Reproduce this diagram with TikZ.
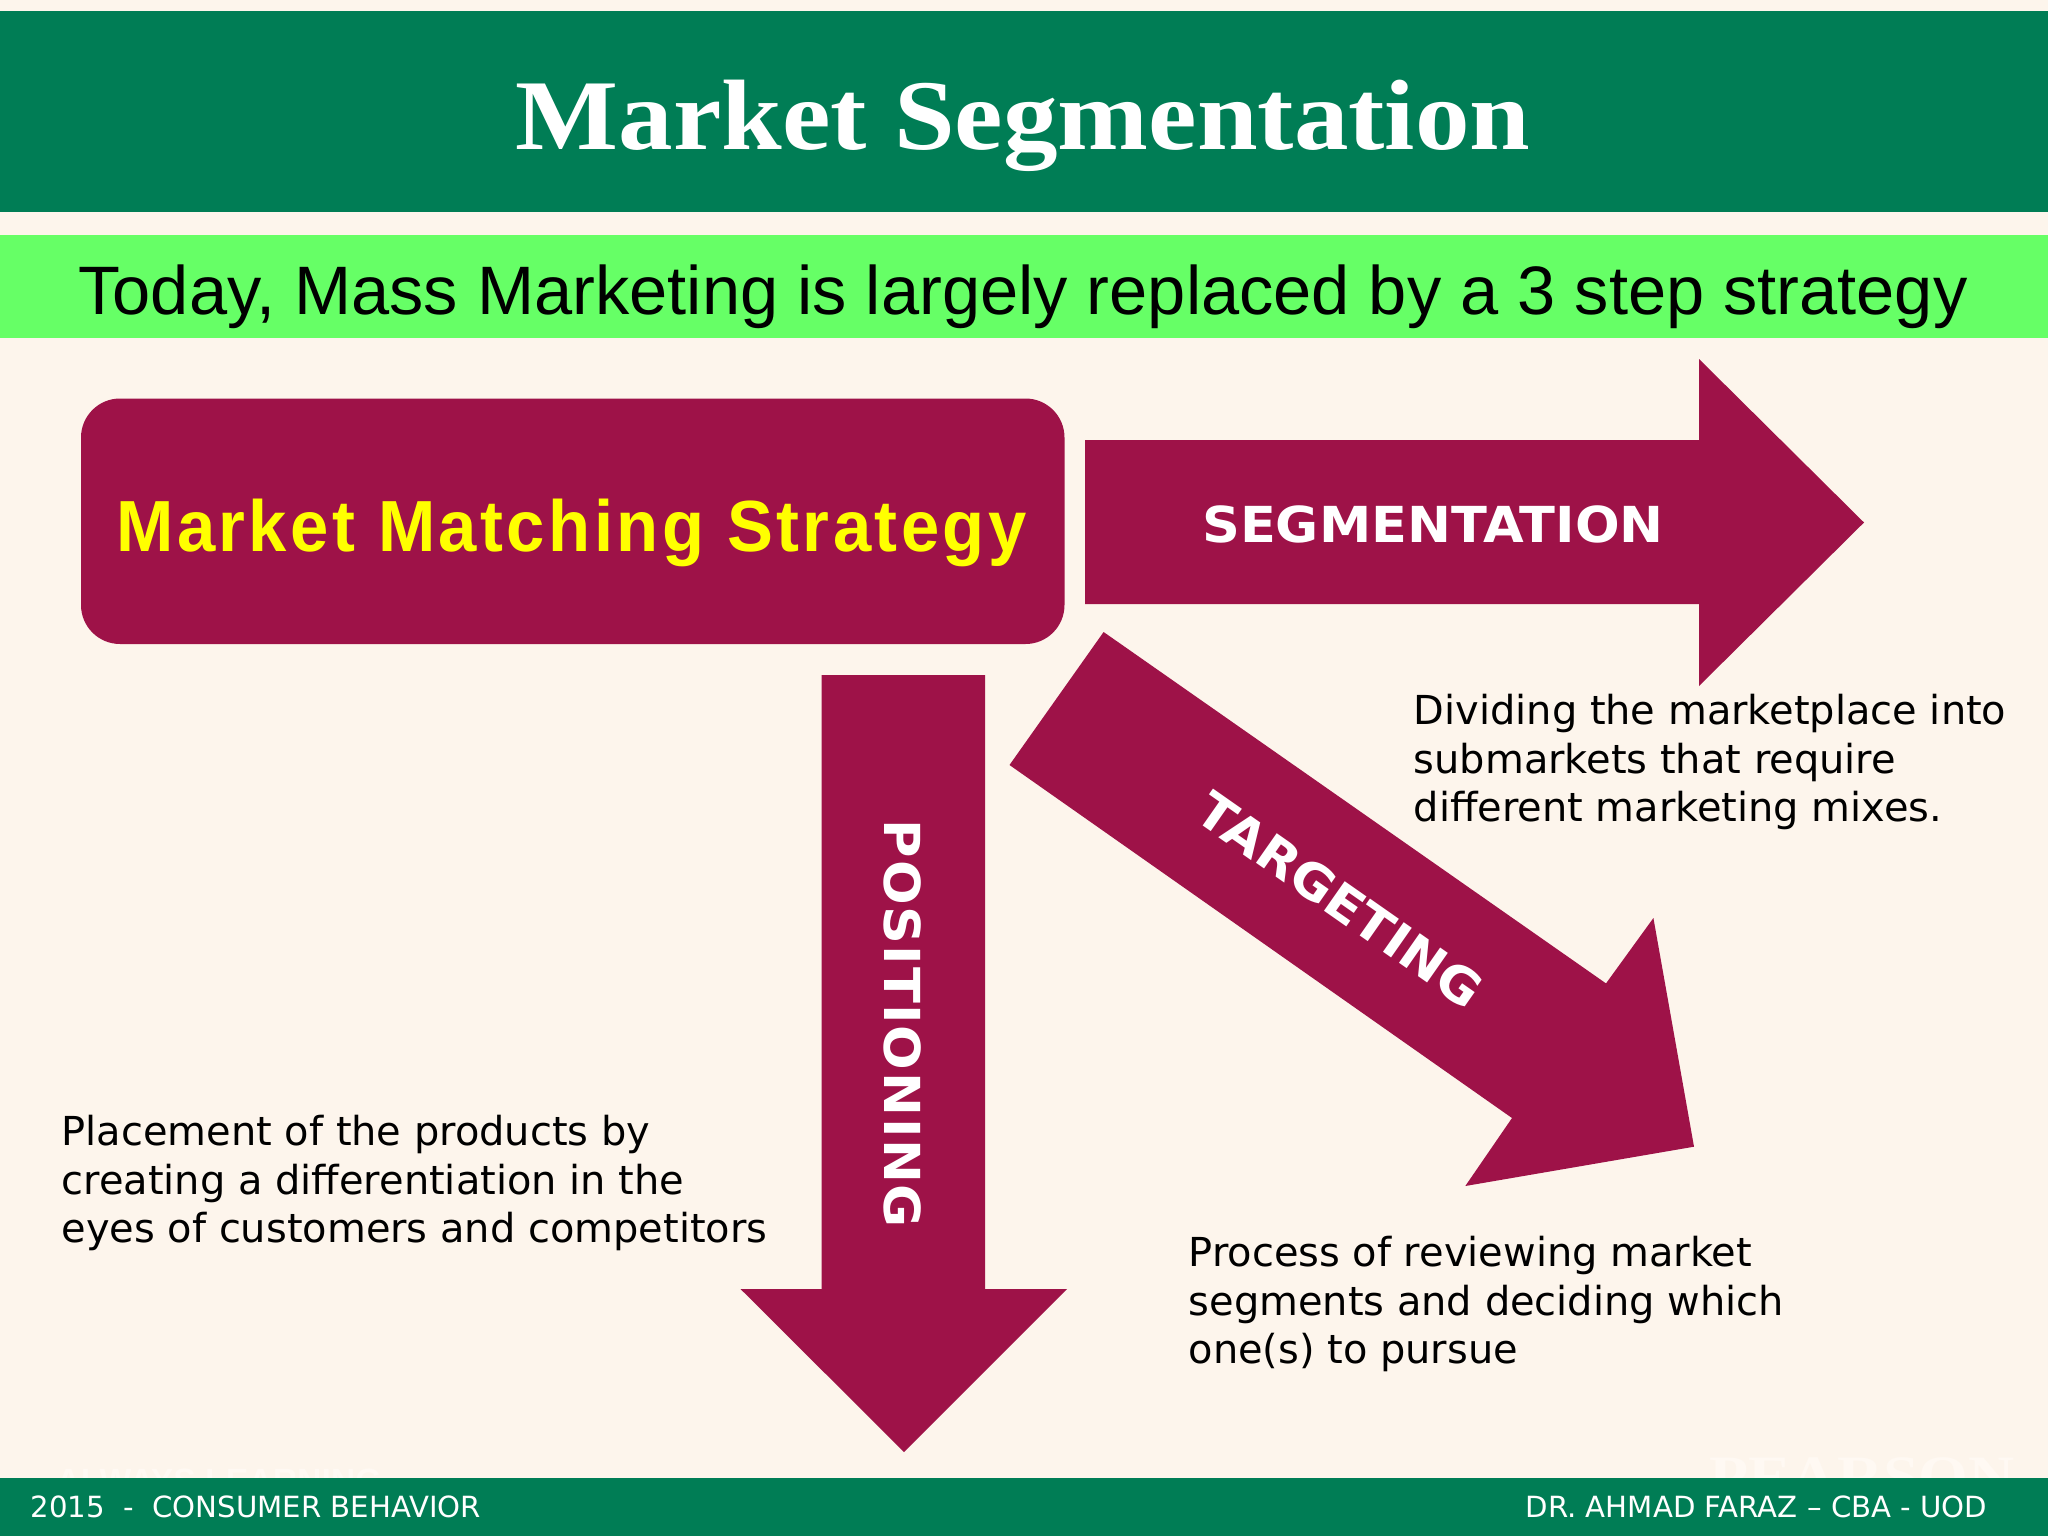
\documentclass[tikz,border=0pt]{standalone}
\usepackage{fontspec}
\setmainfont{DejaVu Sans}
\newfontfamily\titlefont[FakeStretch=1.09]{Liberation Serif}
\newfontfamily\subfont{Liberation Sans}
\newfontfamily\strategyfont[FakeStretch=0.95,LetterSpace=4.8]{Liberation Sans}
\newfontfamily\labelfont[FakeStretch=1.06]{DejaVu Sans}
\usetikzlibrary{calc}
\definecolor{Paper}{RGB}{253,245,236}
\definecolor{Whisper}{RGB}{255,249,243}
\definecolor{Forest}{RGB}{0,125,85}
\definecolor{Lime}{RGB}{102,255,102}
\definecolor{Maroon}{RGB}{158,18,72}
\tikzset{
    band/.style={fill=#1,draw=none},
    stepshape/.style={fill=Maroon,draw=none},
    steplabel/.style={text=white,inner sep=0pt,font=\fontsize{14.1pt}{17pt}\selectfont\labelfont\bfseries},
    blurb/.style={text=black,inner sep=0pt,anchor=west,align=left,font=\fontsize{11.35pt}{13.66pt}\selectfont},
    foot/.style={text=white,inner sep=0pt,font=\fontsize{8.3pt}{10pt}\selectfont},
    ghost/.style={text=Whisper,inner sep=0pt,anchor=base},
}

\begin{document}
\begin{tikzpicture}[x=0.01cm,y=-0.01cm]
        \useasboundingbox (0,0) rectangle (2048,1536);
        \fill[band=Paper] (0,0) rectangle (2048,1536);
        \fill[band=Forest] (0,10.5) rectangle (2048,211.5);
        \fill[band=Lime] (0,235) rectangle (2048,338);
        \node[ghost] (learning) at (219,1492) {\fontsize{9.6pt}{12pt}\selectfont\subfont\bfseries ALWAYS LEARNING};
        \node[ghost] (pearson) at (1862,1496) {\fontsize{16.7pt}{20pt}\selectfont\titlefont\bfseries PEARSON};
        \fill[band=Forest] (0,1478) rectangle (2048,1536);
        \node[text=white,inner sep=0pt] (title) at (1023,126) {\fontsize{28.45pt}{34pt}\selectfont\titlefont\bfseries Market Segmentation};
        \node[text=black,inner sep=0pt] (subtitle) at (1023,296.5) {\fontsize{19.5pt}{24pt}\selectfont\subfont Today, Mass Marketing is largely replaced by a 3 step strategy};
        \fill[stepshape,rounded corners=0.39cm] (81,398.5) rectangle (1064.5,644);
        \node[text={rgb,255:red,255;green,255;blue,0},inner sep=0pt,anchor=base] (strategy) at (571.5,551) {\fontsize{20.6pt}{25pt}\selectfont\strategyfont\bfseries Market Matching Strategy};
        \fill[stepshape] (1085,440)--(1699,440)--(1699,359)--(1864,522.5)--(1699,686)--(1699,604)--(1085,604)--cycle;
        \node[steplabel] (segmentation) at (1433,524) {SEGMENTATION};
        \fill[stepshape] (821.5,675)--(985,675)--(985,1289)--(1067,1289)--(904,1452)--(740.5,1289)--(821.5,1289)--cycle;
        \node[steplabel,rotate=-90] (positioning) at (903,1024) {\addfontfeature{LetterSpace=3.4}POSITIONING};
        \fill[stepshape] (1103.6,632)--(1606,983.4)--(1653.4,918)--(1694,1146.7)--(1465.3,1186)--(1512,1118)--(1009.5,765)--cycle;
        \node[steplabel,rotate=-35] (targeting) at (1340,900) {TARGETING};
        \node[blurb] (segtext) at (1413,762) {Dividing the marketplace into\\submarkets that require\\different marketing mixes.};
        \node[blurb] (postext) at (61,1183) {Placement of the products by\\creating a differentiation in the\\eyes of customers and competitors};
        \node[blurb] (tartext) at (1188,1304) {Process of reviewing market\\segments and deciding which\\one(s) to pursue};
        \node[foot,anchor=west] (footleft) at (30,1507) {2015\ \ -\ \ CONSUMER BEHAVIOR};
        \node[foot,anchor=east] (footright) at (1988,1507) {DR. AHMAD FARAZ -- CBA - UOD};
\end{tikzpicture}
\end{document}
